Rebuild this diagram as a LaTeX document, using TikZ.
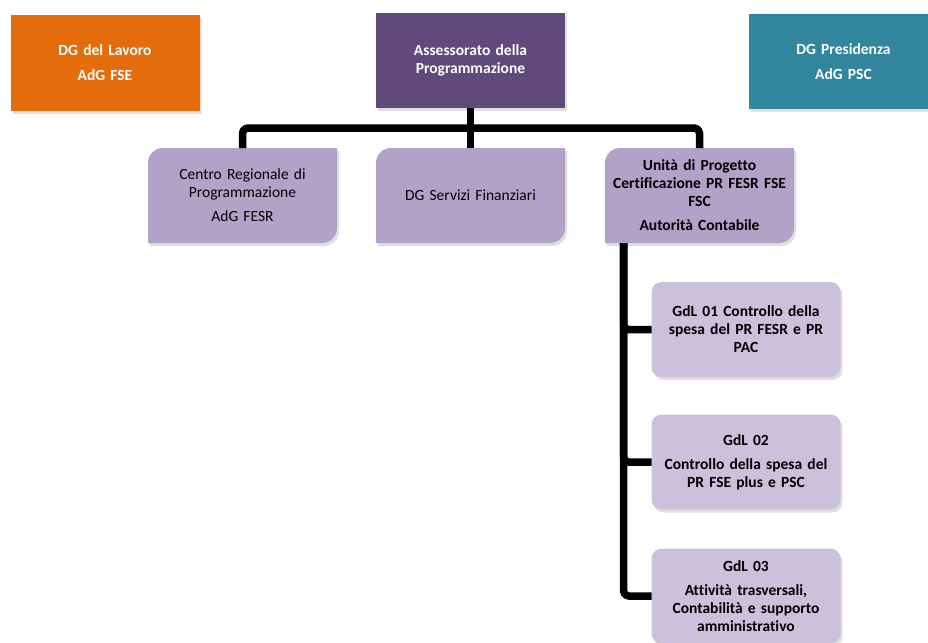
\documentclass[tikz,border=0pt]{standalone}
\usepackage{fontspec}
\setmainfont{Carlito}[Ligatures=CommonOff]
\usepackage{tikz}
\usetikzlibrary{calc,positioning,shadows,backgrounds}

\begin{document}
\begin{tikzpicture}[x=1pt,y=1pt,
		myshadow/.style={drop shadow={shadow xshift=2pt,shadow yshift=-3pt,opacity=0.25}},
		box/.style={minimum width=189,minimum height=95,inner sep=0pt,outer sep=0pt,text width=189pt,align=center},
		topbox/.style={box,myshadow,text=white,font=\bfseries\fontsize{15.5}{18}\selectfont},
		midbox/.style={box,font=\fontsize{15.5}{18}\selectfont},
		gdlbox/.style={box,fill=lavthree,myshadow,rounded corners=10pt,font=\bfseries\fontsize{15.5}{18}\selectfont},
		conn/.style={line width=7.5pt,rounded corners=5pt,line join=round}]
			\definecolor{lavoroc}{HTML}{E46C0A}
			\definecolor{assessc}{HTML}{604A7B}
			\definecolor{presc}{HTML}{31859C}
			\definecolor{lavtwo}{HTML}{B3A2C7}
			\definecolor{lavthree}{HTML}{CCC1DA}
			\useasboundingbox (0,0) rectangle (928,-642);
			
			% ---------- Top row ----------
			\node[topbox,fill=lavoroc] (lavoro) at (105,-63) {DG del Lavoro\\[7pt]AdG FSE};
			\node[topbox,fill=assessc] (assess) at (470.5,-60.5) {Assessorato della\\Programmazione};
			\node[topbox,fill=presc] (presid) at (843.5,-61.5) {DG Presidenza\\[7pt]AdG PSC};
			
			% ---------- Second row ----------
			\node[midbox] (centro) at (242.5,-195.5) {Centro Regionale di\\Programmazione\\[6pt]AdG FESR};
			\node[midbox] (servizi) at (470.5,-195.5) {DG Servizi Finanziari};
			\node[midbox] (unita) at (699.5,-195.5) {\bfseries Unità di Progetto\\Certificazione PR FESR FSE\\FSC\\[6pt]Autorità Contabile};
			
			% fill with two rounded corners
			\begin{scope}[on background layer]
				\foreach \n in {centro,servizi,unita}
					\fill[lavtwo,myshadow] ($(\n.north west)+(0,-15)$) arc[start angle=180,end angle=90,radius=15pt]
						-- (\n.north east) -- ($(\n.south east)+(0,15)$) arc[start angle=0,end angle=-90,radius=15pt]
						-- (\n.south west) -- cycle;
			\end{scope}
			
			% ---------- Working groups ----------
			\node[gdlbox] (gdl1) at (746,-329.5) {GdL 01 Controllo della\\spesa del PR FESR e PR\\PAC};
			\node[gdlbox] (gdl2) at (746,-462) {GdL 02\\[6pt]Controllo della spesa del\\PR FSE plus e PSC};
			\node[gdlbox] (gdl3) at (746,-596) {GdL 03\\[6pt]Attività trasversali,\\Contabilità e supporto\\amministrativo};
			
			% ---------- Connectors ----------
			\draw[conn] (assess.south) -- (servizi.north);
			\draw[conn] (centro.north) |- ($(assess.south)+(0,-20)$) -| (unita.north);
			
			\coordinate (trunk) at ($(unita.south west)+(18.5,0)$);
			\draw[conn] (trunk) |- (gdl1.west);
			\draw[conn] (trunk) |- (gdl2.west);
			\draw[conn] (trunk) |- (gdl3.west);
			
		\end{tikzpicture}
\end{document}
